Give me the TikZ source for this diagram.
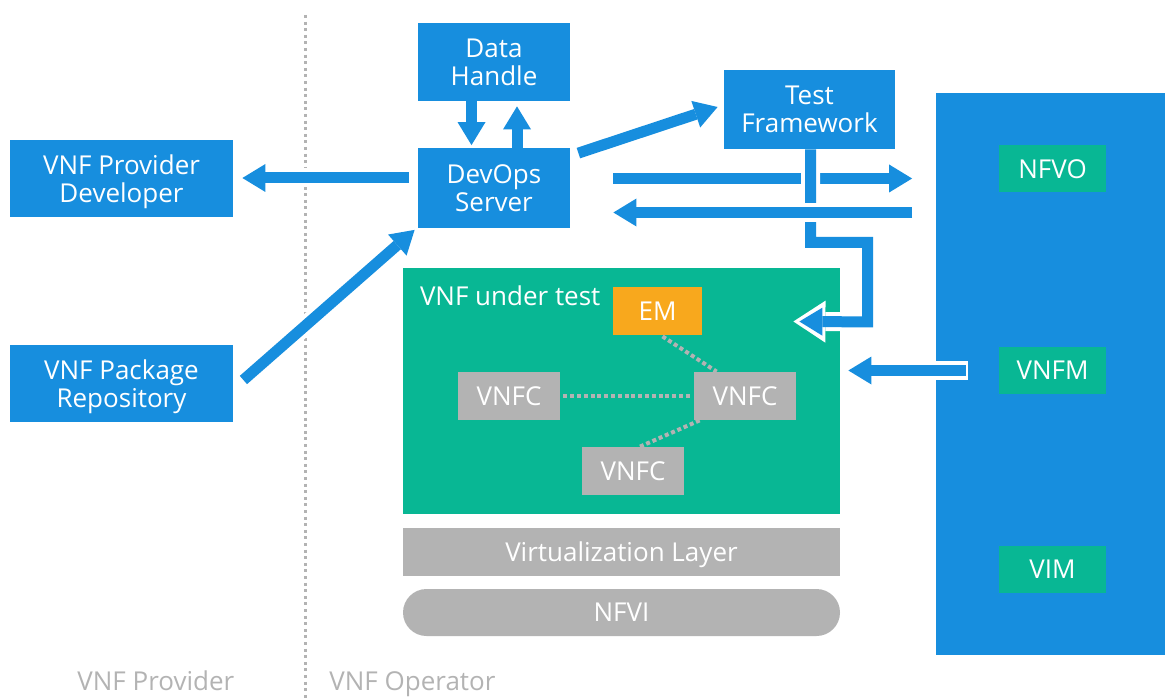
\documentclass[tikz,border=0pt]{standalone}
\usepackage{fontspec}
\setmainfont{Open Sans}
\usetikzlibrary{arrows.meta, calc}

\definecolor{vnfblue}{HTML}{178EDE}
\definecolor{vnfgreen}{HTML}{08B794}
\definecolor{vnforange}{HTML}{F8A81D}
\definecolor{vnfgray}{HTML}{B3B3B3}

\tikzset{
  blk/.style={fill=vnfblue, text=white, align=center, inner sep=0pt, text depth=0pt},
  part/.style={fill=vnfgray, text=white, inner sep=0pt, minimum width=51pt, minimum height=24pt},
  mgmt/.style={fill=vnfgreen, text=white, inner sep=0pt, minimum width=53.5pt, minimum height=23.5pt},
  layer/.style={fill=vnfgray, text=white, inner sep=0pt, text depth=0pt, minimum width=218.5pt},
  tag/.style={anchor=base west, inner sep=0pt},
  flow/.style={draw=vnfblue, line width=5.5pt, -{Triangle[line width=0pt, length=11.5pt, width=14pt]}},
  halo/.style={preaction={draw=white, -, line width=9.5pt, shorten >=11pt, shorten <=-#1}},
  halo/.default=0pt,
  halotip/.style={preaction={draw=white, line width=9.5pt, -{Triangle[line width=0pt, length=16pt, width=21pt]}, shorten >=-3pt}},
  link/.style={draw=vnfgray, line width=2pt, dash pattern=on 2pt off 1.4pt},
  divider/.style={draw=vnfgray, line width=1.5pt, dash pattern=on 1.5pt off 1.8pt}
}

\begin{document}
\begin{tikzpicture}[x=0.5pt, y=-0.5pt, font=\fontsize{13}{13.8}\selectfont]
\useasboundingbox (0,0) rectangle (1165,700);

% --- Provider / operator border ---
\draw[divider] (305.5,15) -- (305.5,700);
\node[tag, text=vnfgray] (provlabel) at (77,690) {VNF Provider};
\node[tag, text=vnfgray] (oplabel) at (329,690) {VNF Operator};

% --- Blue blocks ---
\node[blk, minimum width=111.5pt, minimum height=38.5pt] (provdev) at (121.5,178.5) {VNF Provider\\Developer};
\node[blk, minimum width=111.5pt, minimum height=38.5pt] (repo) at (121.5,383.5) {VNF Package\\Repository};
\node[blk, minimum width=76pt, minimum height=39pt] (dh) at (494,62) {Data\\Handle};
\node[blk, minimum width=76pt, minimum height=39.5pt] (devops) at (494,188) {DevOps\\Server};
\node[blk, minimum width=85.5pt, minimum height=39.5pt] (tf) at (809.5,109.5) {Test\\Framework};

% --- NFV MANO ---
\node[fill=vnfblue, minimum width=115pt, minimum height=281pt, inner sep=0pt] (mano) at (1050.5,374) {};
\foreach \n/\y in {NFVO/169, VNFM/370.5, VIM/569}{
  \node[mgmt] (\n) at (1052.5,\y) {\n};
}

% --- VNF under test ---
\node[fill=vnfgreen, minimum width=218.5pt, minimum height=123pt, inner sep=0pt] (vnf) at (621.5,390.5) {};
\node[tag, text=white] (vnflabel) at ($(vnf.north west)+(17,38)$) {VNF under test};
\node[fill=vnforange, text=white, inner sep=0pt, minimum width=44.5pt, minimum height=24pt] (em) at (657.5,311) {EM};
\node[part] (vnfc1) at (509,396) {VNFC};
\node[part] (vnfc2) at (745,396) {VNFC};
\node[part] (vnfc3) at (633,471) {VNFC};
\draw[link] ($(vnfc1.east)+(3,0)$) -- ($(vnfc2.west)+(-4,0)$);
\draw[link] ($(em.south)+(5,1)$) -- ($(vnfc2.north west)+(23,0)$);
\draw[link] ($(vnfc3.north)+(7,0)$) -- ($(vnfc2.south west)+(6,0)$);

% --- Infrastructure ---
\node[layer, minimum height=24pt] (virt) at (621.5,552) {Virtualization Layer};
\node[layer, minimum height=23.5pt, rounded corners=11.75pt] (nfvi) at (621.5,612.5) {NFVI};

% --- Arrows ---
\draw[flow, halo] ($(devops.west)+(-9,-10)$) -- ($(provdev.east)+(9,-0.5)$);
\draw[flow, halo] ($(repo.east)+(10,-3.5)$) -- ($(devops.south west)+(-3,2)$);
\draw[flow] ($(dh.south)+(-22.5,0)$) -- ($(devops.north)+(-22.5,-3)$);
\draw[flow] ($(devops.north)+(23,0)$) -- ($(dh.south)+(23,5)$);
\draw[flow, halo] ($(devops.north east)+(8,5)$) -- ($(tf.west)+(-6,-2.5)$);
\draw[flow, halo] ($(devops.east)+(43,-9.5)$) -- ($(mano.west)+(-23,-195.5)$);
\draw[flow, halotip] ($(tf.south)+(1,0)$) -- ++(0,93) -- ++(57,0) -- ++(0,79.5) -- ($(vnf.east)+(-41,-69)$);
\draw[flow, halo] ($(mano.west)+(-23,-161.5)$) -- ($(devops.east)+(43,24.5)$);
\draw[flow, halo=1pt] ($(VNFM.west)+(-33,0)$) -- ($(vnf.east)+(8,-20)$);

\end{tikzpicture}
\end{document}
